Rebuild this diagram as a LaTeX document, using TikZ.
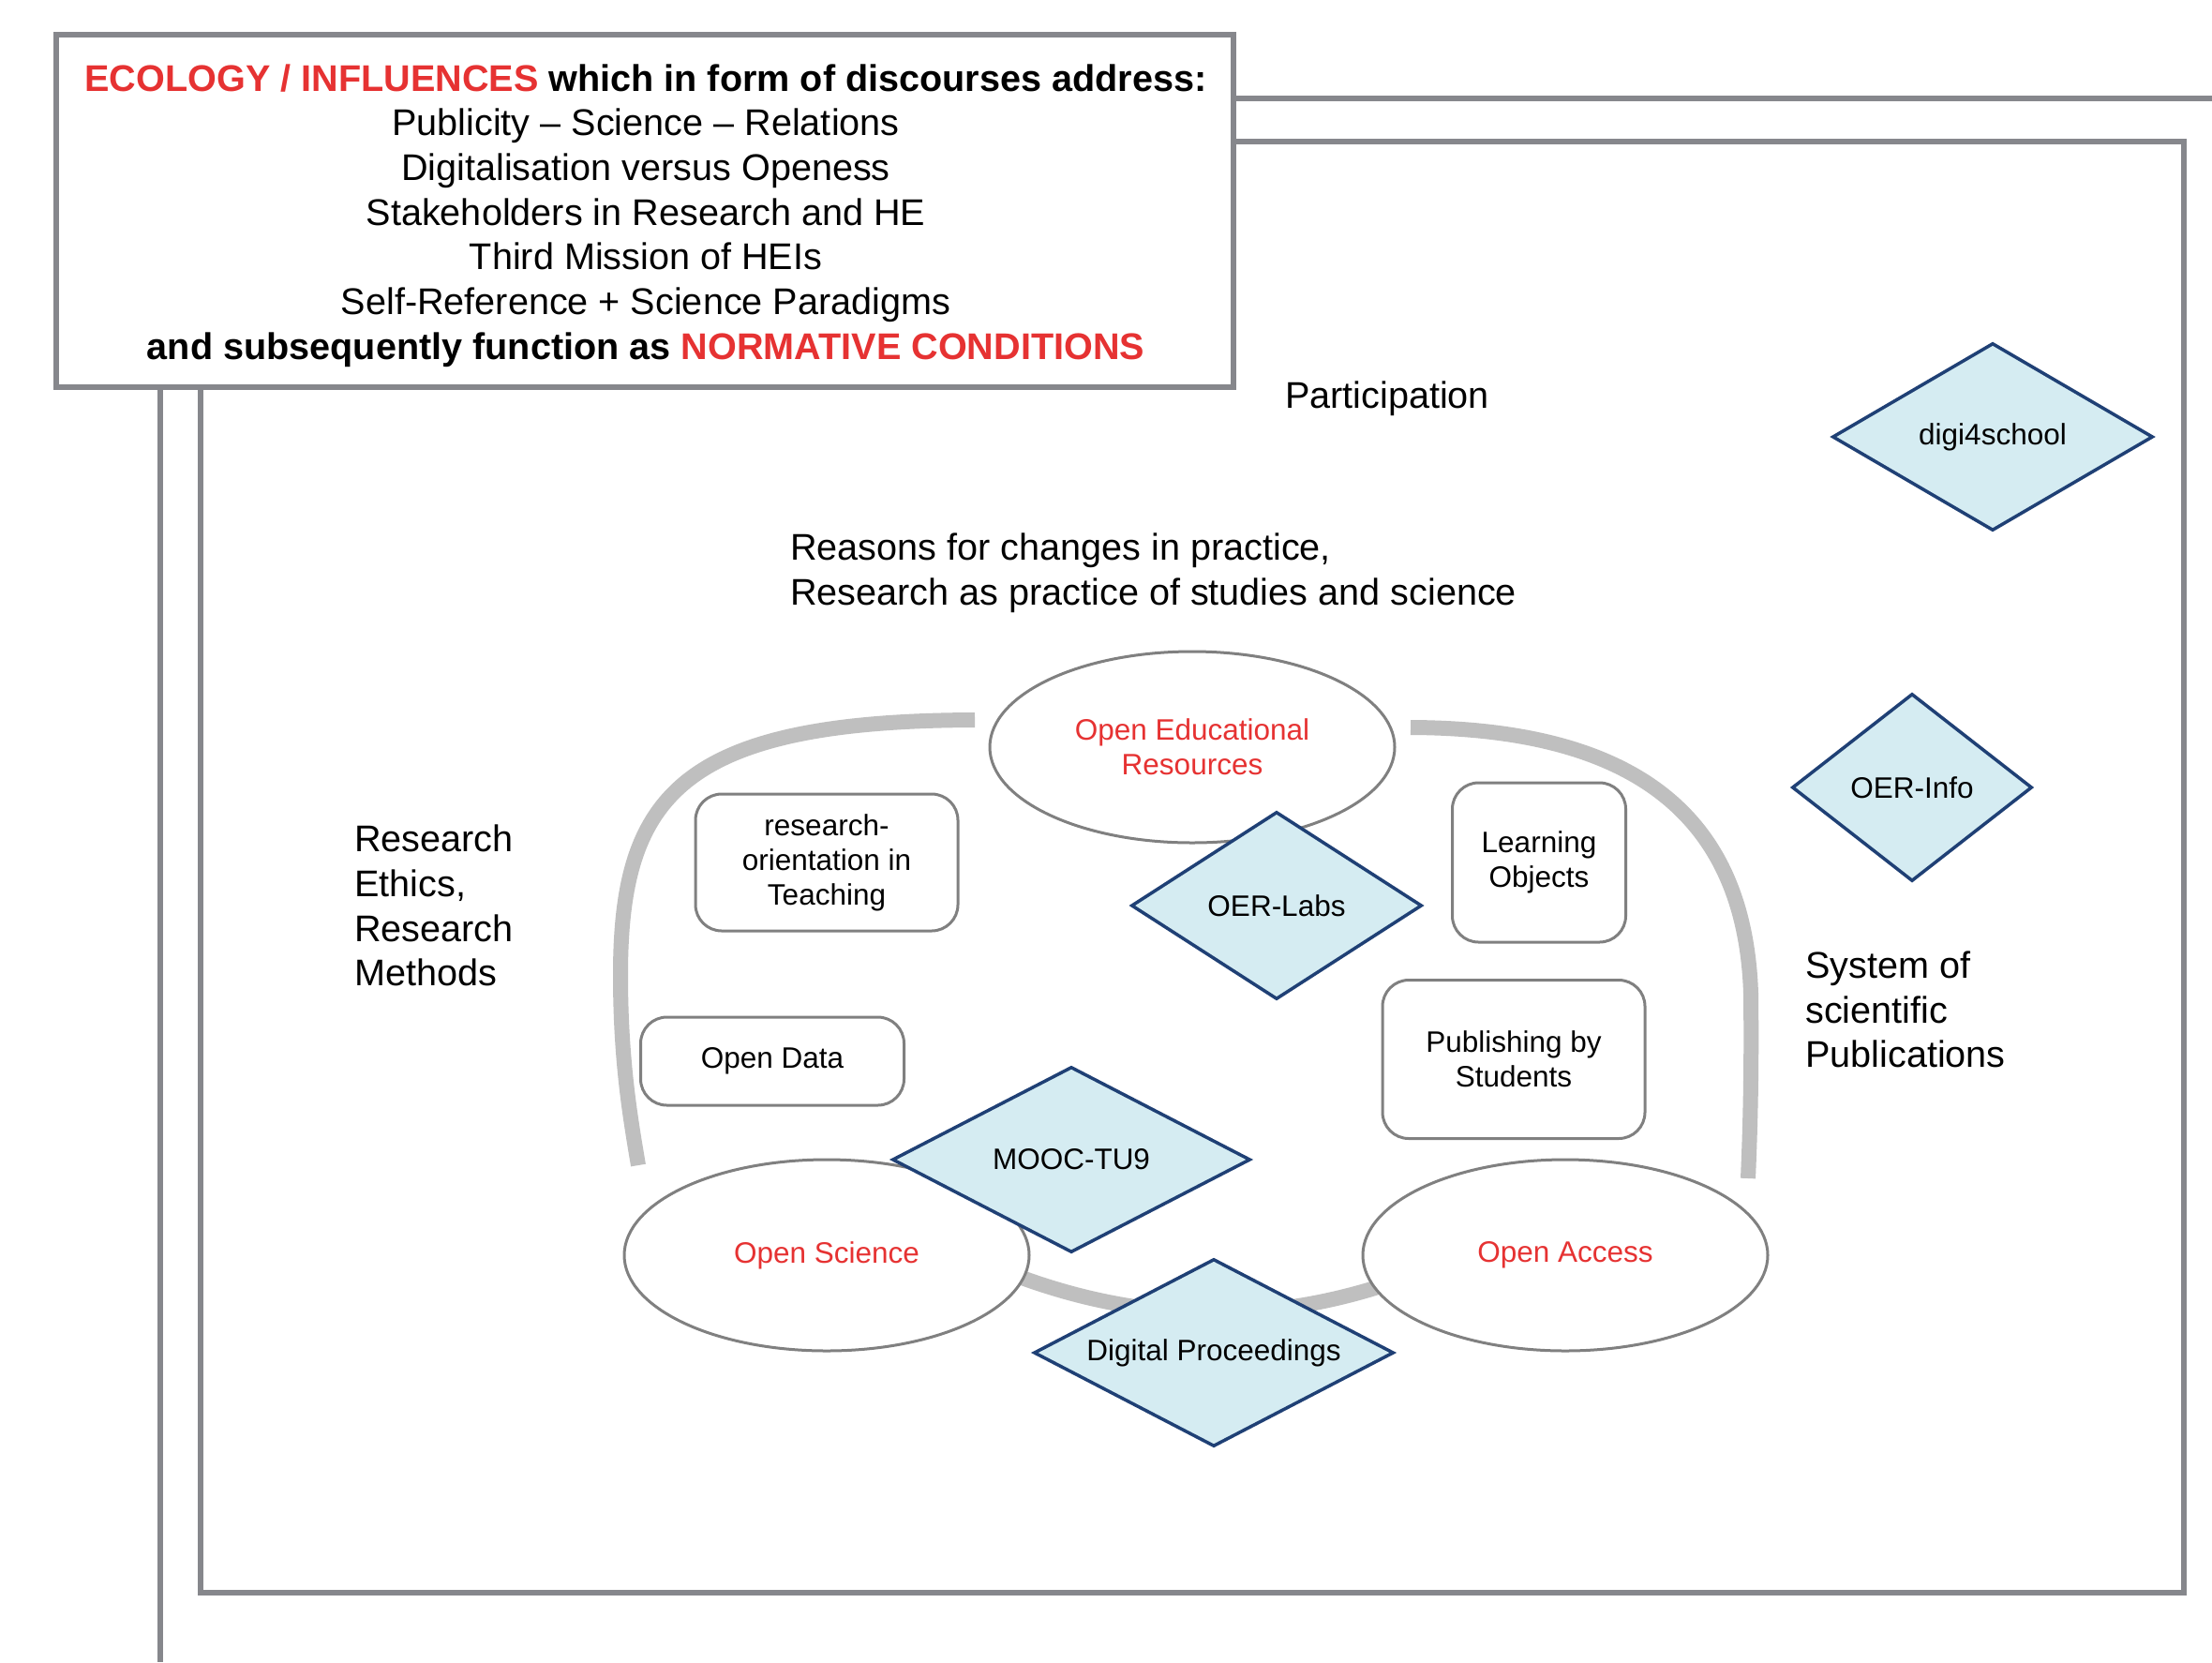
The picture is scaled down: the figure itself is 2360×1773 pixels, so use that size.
\documentclass[tikz,border=0pt]{standalone}
\usepackage{fontspec}
\setmainfont{Liberation Sans}
\usetikzlibrary{shapes.geometric}
\definecolor{framegray}{RGB}{134,135,140}
\definecolor{ellgray}{RGB}{128,128,128}
\definecolor{arcgray}{RGB}{191,191,191}
\definecolor{redtxt}{RGB}{230,50,50}
\definecolor{dfill}{RGB}{213,236,242}
\definecolor{dline}{RGB}{31,64,117}
\newcommand{\bigfnt}{\fontsize{39.6pt}{47.7pt}\selectfont}
\newcommand{\smallfnt}{\fontsize{31.5pt}{37pt}\selectfont}
\begin{document}
\begin{tikzpicture}[x=1pt,y=-1pt,
  frameline/.style={draw=framegray, line width=5.5pt},
  bigtxt/.style={font=\bigfnt, inner sep=0pt, align=left},
  oval/.style={ellipse, draw=ellgray, line width=3pt, fill=white, minimum width=432pt, minimum height=204pt, inner sep=0pt, font=\smallfnt, text=redtxt, align=center},
  rbox/.style={rectangle, rounded corners=28pt, draw=ellgray, line width=3pt, fill=white, inner sep=0pt, font=\smallfnt, align=center},
  dia/.style={diamond, draw=dline, line width=3.5pt, fill=dfill, inner sep=0pt, font=\smallfnt},
  grayarc/.style={draw=arcgray, line width=16pt}
]
\fill[white] (0,0) rectangle (2360,1773);
\useasboundingbox (0,0) rectangle (2360,1773);

% frame lines
\draw[frameline] (214,151) rectangle (2330,1699);
\coordinate (vtop) at (171,413);
\coordinate (vbot) at (171,1773);
\draw[frameline] (vtop) -- (vbot);
\coordinate (htl) at (1316,105);
\coordinate (htr) at (2360,105);
\draw[frameline] (htl) -- (htr);

% header box
\node[draw=framegray, line width=5.5pt, fill=white, minimum width=1256pt, minimum height=376pt, inner sep=0pt] (hdr) at (688,225) {};
\node[font=\bigfnt, align=center, inner sep=0pt] (hdrtext) at (689,230) {%
\textbf{\textcolor{redtxt}{ECOLOGY / INFLUENCES} which in form of discourses address:}\\
Publicity – Science – Relations\\
Digitalisation versus Openess\\
Stakeholders in Research and HE\\
Third Mission of HEIs\\
Self-Reference + Science Paradigms\\
\textbf{and subsequently function as \textcolor{redtxt}{NORMATIVE CONDITIONS}}};

% free labels
\node[bigtxt] (part) at (1480,425) {Participation};
\node[bigtxt, anchor=west] (reasons) at (843,611) {Reasons for changes in practice,\\Research as practice of studies and science};
\node[bigtxt, anchor=west] (ethics) at (378,966) {Research\\Ethics,\\Research\\Methods};
\node[bigtxt, anchor=west] (sys) at (1926,1077) {System of\\scientific\\Publications};

% gray arcs
\coordinate (a1s) at (1040,768);
\coordinate (a1e) at (681,1243);
\draw[grayarc] (a1s) .. controls (725,769) and (662,850) .. (662,1040) .. controls (662,1130) and (672,1190) .. (a1e);
\coordinate (a2s) at (1505,776);
\coordinate (a2e) at (1865,1257);
\draw[grayarc] (a2s) .. controls (1750,777) and (1862,875) .. (1868,1060) .. controls (1869,1150) and (1867,1210) .. (a2e);
\coordinate (a3s) at (1000,1323);
\coordinate (a3e) at (1590,1323);
\draw[grayarc] (a3s) .. controls (1197,1426) and (1393,1426) .. (a3e);

% ellipses
\node[oval] (oer) at (1272,797) {Open Educational\\Resources};
\node[oval] (os) at (882,1339) {Open Science};
\node[oval] (oa) at (1670,1339) {Open Access};

% rounded boxes
\node[rbox, minimum width=280pt, minimum height=146pt] (rot) at (882,920) {research-\\orientation in\\Teaching};
\node[rbox, minimum width=281pt, minimum height=94pt] (od) at (824,1132) {Open Data};
\node[rbox, minimum width=185pt, minimum height=170pt] (lo) at (1642,920) {Learning\\Objects};
\node[rbox, minimum width=280pt, minimum height=169pt] (pbs) at (1615,1130) {Publishing by\\Students};

% diamonds
\node[dia, aspect=1.55, minimum width=310pt, minimum height=200pt] (oerlabs) at (1362,966) {OER-Labs};
\node[dia, aspect=1.93, minimum width=382pt, minimum height=198pt] (mooc) at (1143,1237) {MOOC-TU9};
\node[dia, aspect=1.92, minimum width=384pt, minimum height=200pt] (dp) at (1295,1443) {Digital Proceedings};
\node[dia, aspect=1.28, minimum width=256pt, minimum height=200pt] (oerinfo) at (2040,840) {OER-Info};
\node[dia, aspect=1.71, minimum width=342pt, minimum height=200pt] (d4s) at (2126,466) {digi4school};
\end{tikzpicture}
\end{document}
